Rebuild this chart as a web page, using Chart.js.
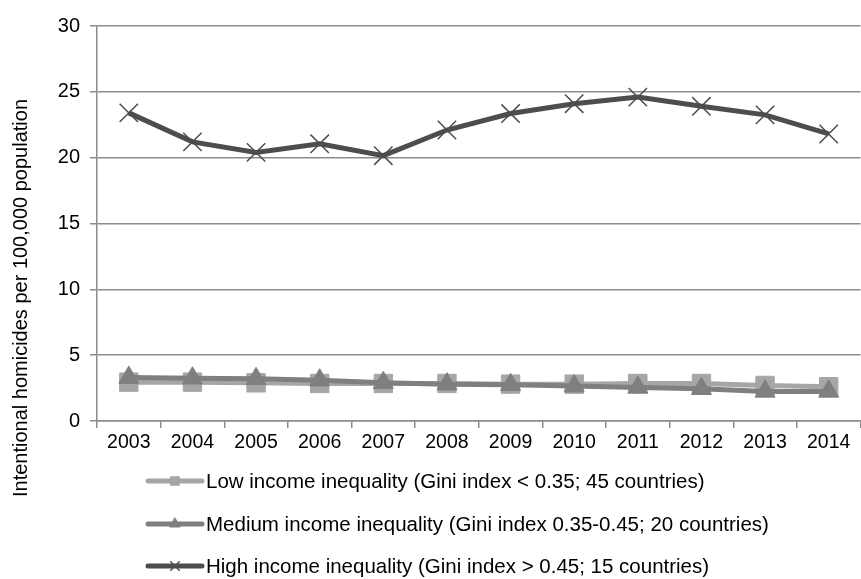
<!DOCTYPE html>
<html>
<head>
<meta charset="utf-8">
<script src="https://cdn.jsdelivr.net/npm/chart.js@4/dist/chart.umd.min.js"></script>
<style>
  html, body { margin: 0; padding: 0; background: #fff; overflow: hidden; }
  #wrap { position: relative; width: 875px; height: 579px; }
</style>
</head>
<body>
<div id="wrap"><canvas id="line-chart"></canvas></div>
<script>
const years = ['2003', '2004', '2005', '2006', '2007', '2008', '2009', '2010', '2011', '2012', '2013', '2014'];
const lowInequality = [2.95, 2.95, 2.9, 2.85, 2.85, 2.85, 2.8, 2.8, 2.85, 2.85, 2.7, 2.6];
const mediumInequality = [3.3, 3.25, 3.2, 3.1, 2.9, 2.8, 2.75, 2.65, 2.55, 2.45, 2.25, 2.25];
const highInequality = [23.4, 21.2, 20.4, 21.05, 20.15, 22.1, 23.35, 24.1, 24.6, 23.9, 23.25, 21.8];
const seriesNames = [
    'Low income inequality (Gini index < 0.35; 45 countries)',
    'Medium income inequality (Gini index 0.35-0.45; 20 countries)',
    'High income inequality (Gini index > 0.45; 15 countries)'
];
const yTicks = [0, 5, 10, 15, 20, 25, 30];
const yTitle = 'Intentional homicides per 100,000 population';

const font = 'Liberation Sans, Arial, sans-serif';
const gridColor = '#8c8c8c';

// y title and legend drawn by hand (Excel style: line sample with marker, one row each)
const sideLegend = {
    id: 'sideLegend',
    afterDraw(chart) {
        const ctx = chart.ctx;
        ctx.save();
        ctx.translate(21, 298);
        ctx.rotate(-Math.PI / 2);
        ctx.fillStyle = '#000';
        ctx.font = '20px ' + font;
        ctx.textAlign = 'center';
        ctx.textBaseline = 'middle';
        ctx.fillText(yTitle, 0, 0);
        ctx.restore();

        const rows = [481, 524, 566];
        chart.data.datasets.forEach((ds, i) => {
            const y = rows[i];
            ctx.save();
            ctx.strokeStyle = ds.borderColor;
            ctx.lineWidth = 5;
            ctx.lineCap = 'round';
            ctx.beginPath();
            ctx.moveTo(148, y);
            ctx.lineTo(202, y);
            ctx.stroke();
            ctx.fillStyle = ds.pointBackgroundColor;
            ctx.strokeStyle = ds.pointBorderColor;
            ctx.lineWidth = ds.pointBorderWidth;
            Chart.helpers.drawPoint(ctx, {
                pointStyle: ds.pointStyle,
                radius: 6,
                borderWidth: ds.pointBorderWidth
            }, 175, y);
            ctx.fillStyle = '#000';
            ctx.font = '20.5px ' + font;
            ctx.textAlign = 'left';
            ctx.textBaseline = 'middle';
            ctx.fillText(ds.label, 206, y + 1);
            ctx.restore();
        });
    }
};

const ctx = document.getElementById('line-chart');
new Chart(ctx, {
    type: 'line',
    data: {
        labels: years,
        datasets: [{
            label: seriesNames[0],
            data: lowInequality,
            borderColor: '#a6a6a6',
            backgroundColor: '#a6a6a6',
            pointBackgroundColor: '#a6a6a6',
            pointBorderColor: '#a6a6a6',
            pointStyle: 'rect',
            pointRadius: 13,
            pointBorderWidth: 1,
            borderWidth: 5,
            order: 3
        }, {
            label: seriesNames[1],
            data: mediumInequality,
            borderColor: '#7f7f7f',
            backgroundColor: '#7f7f7f',
            pointBackgroundColor: '#7f7f7f',
            pointBorderColor: '#7f7f7f',
            pointStyle: 'triangle',
            pointRadius: 11.5,
            pointBorderWidth: 1,
            borderWidth: 5,
            order: 2
        }, {
            label: seriesNames[2],
            data: highInequality,
            borderColor: '#4d4d4d',
            backgroundColor: '#4d4d4d',
            pointBackgroundColor: '#4d4d4d',
            pointBorderColor: '#4d4d4d',
            pointStyle: 'crossRot',
            pointRadius: 13,
            pointBorderWidth: 1.5,
            borderWidth: 5,
            order: 1
        }]
    },
    options: {
        responsive: true,
        maintainAspectRatio: false,
        animation: false,
        layout: { padding: { top: 26, right: 6, bottom: 128, left: 0 } },
        plugins: {
            legend: { display: false },
            tooltip: { enabled: false }
        },
        scales: {
            x: {
                offset: true,
                grid: {
                    offset: true,
                    drawOnChartArea: false,
                    drawTicks: true,
                    tickLength: 7,
                    color: gridColor,
                    lineWidth: 1.5
                },
                border: { color: gridColor, width: 1.5 },
                ticks: {
                    color: '#000',
                    font: { family: font, size: 19.5 },
                    padding: 3,
                    maxRotation: 0,
                    autoSkip: false
                },
                afterFit(scale) { scale.height = 30; }
            },
            y: {
                min: 0,
                max: 30,
                afterBuildTicks(scale) { scale.ticks = yTicks.map(v => ({ value: v })); },
                grid: {
                    color: gridColor,
                    lineWidth: 1.5,
                    tickLength: 7
                },
                border: { color: gridColor, width: 1.5 },
                ticks: {
                    color: '#000',
                    font: { family: font, size: 20 },
                    padding: 10
                },
                afterFit(scale) { scale.width = 97; }
            }
        }
    },
    plugins: [sideLegend]
});
</script>
</body>
</html>
